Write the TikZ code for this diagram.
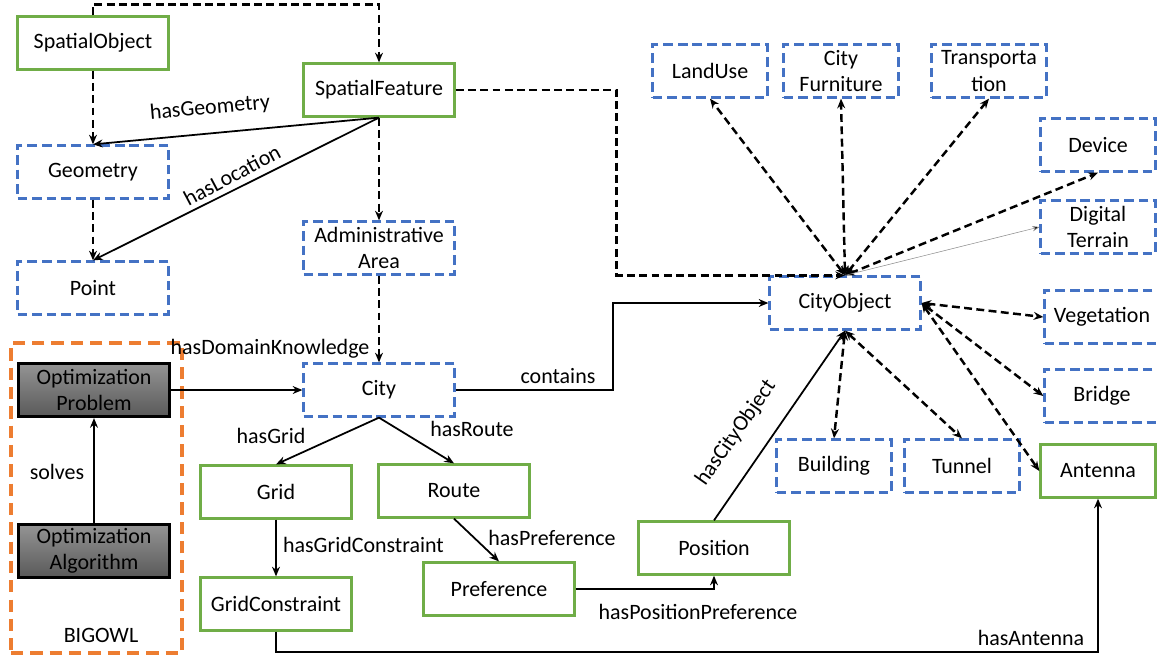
\documentclass[tikz,border=0pt]{standalone}
\usepackage{fontspec}
\setmainfont{Carlito}
\usepackage{tikz}
\usetikzlibrary{arrows.meta}
\definecolor{clsgreen}{HTML}{70AD47}
\definecolor{extblue}{HTML}{4472C4}
\definecolor{owlorange}{HTML}{ED7D31}
\newcommand{\txt}{\fontsize{12.5}{15}\selectfont}
\tikzset{
    box/.style={draw, align=center, minimum height=1.06cm, inner sep=1pt, font=\txt},
    cls/.style={box, draw=clsgreen, line width=1.3pt, minimum width=3.02cm},
    ext/.style={box, draw=extblue, line width=1.3pt, dash pattern=on 5.5pt off 2.8pt, minimum width=2.3cm},
    opt/.style={box, line width=1.8pt, top color=black!42, bottom color=black!65, minimum width=3.02cm},
    grp/.style={draw=owlorange, line width=1.8pt, dash pattern=on 7pt off 4pt},
    lbl/.style={font=\txt, inner sep=1pt},
    isa/.style={line width=1.4pt, dash pattern=on 4.5pt off 2.5pt},
    rel/.style={line width=1pt},
    >={Stealth[length=5.5pt,width=4.5pt]}
}

\begin{document}
\begin{tikzpicture}[x=0.02cm, y=-0.02cm]
    \useasboundingbox (0,0) rectangle (1157,657);
    % BIGOWL group
    \node[grp, minimum width=3.42cm, minimum height=6.2cm] (owl) at (96.5,498) {};
    \node[lbl] (owlname) at (101,635) {BIGOWL};
    \node[opt] (prob) at (94,390) {Optimization\\Problem};
    \node[opt] (alg) at (94,551) {Optimization\\Algorithm};
    % spatial part
    \node[cls] (so) at (93,43) {SpatialObject};
    \node[cls] (sf) at (379,90) {SpatialFeature};
    \node[ext, minimum width=3.02cm] (geo) at (93,172) {Geometry};
    \node[ext, minimum width=3.02cm] (pt) at (93,288) {Point};
    \node[ext, minimum width=3.02cm] (adm) at (379,248) {Administrative\\Area};
    \node[ext, minimum width=3.02cm] (city) at (379,390) {City};
    \node[cls] (grid) at (276,492) {Grid};
    \node[cls] (route) at (454,491) {Route};
    \node[cls] (gc) at (276,604) {GridConstraint};
    \node[cls] (pref) at (499,589) {Preference};
    \node[cls] (pos) at (714,548) {Position};
    % city objects
    \node[ext, minimum width=3.02cm] (co) at (845,303) {CityObject};
    \node[ext] (lu) at (710,71) {LandUse};
    \node[ext] (cf) at (841,71) {City\\Furniture};
    \node[ext] (tr) at (989,71) {Transporta\\tion};
    \node[ext] (dev) at (1098,145) {Device};
    \node[ext] (dt) at (1098,227) {Digital\\Terrain};
    \node[ext] (veg) at (1102,317) {Vegetation};
    \node[ext] (br) at (1102,396) {Bridge};
    \node[cls, minimum width=2.3cm] (ant) at (1098,471) {Antenna};
    \node[ext] (bld) at (834,466) {Building};
    \node[ext] (tun) at (962,466) {Tunnel};

    \draw[isa, ->] (so.north) -- ++(0,-11) -| (sf.north);
    \draw[isa, ->] (sf.east) -- ++(161,0) |- (co.north);
    \draw[isa]
    (so) edge[->] (geo)
    (geo) edge[->] (pt)
    (sf) edge[->] (adm)
    (adm) edge[->] (city);
    \draw[rel]
    (sf.south) edge[->] (geo.north)
    (sf.south) edge[->] (pt.north)
    (prob) edge[->] (city)
    (alg) edge[->] (prob)
    (city.south) edge[->] (grid.north)
    (city.south) edge[->] (route.north)
    (grid) edge[->] (gc)
    (route.south) edge[->] (pref.north)
    (pos.north) edge[->] (co.south);
    \draw[rel, ->] (pref.east) -| (pos.south);
    \draw[rel, ->] (city.east) -- ++(157,0) |- (co.west);
    \draw[rel, ->] (gc.south) -- ++(0,20) -| (ant.south);
    \draw[isa]
    (co.north) edge[<->] (lu.south)
    (co.north) edge[<->] (cf.south)
    (co.north) edge[<->] (tr.south)
    (co.north) edge[<->] (dev.south)
    (co.east) edge[<->] (veg.west)
    (co.east) edge[<->] (br.west)
    (co.east) edge[<->] (ant.west)
    (co.south) edge[<->] (bld.north)
    (co.south) edge[<->] (tun.north);
    \draw[draw=black!45, line width=0.3pt, -{Stealth[length=4pt,width=3pt,fill=black]}] (co.north) -- (dt.west);

    % relation names
    \node[lbl, rotate=5] (lgeo) at (210,108) {hasGeometry};
    \node[lbl, rotate=28] (lloc) at (232,175) {hasLocation};
    \node[lbl] (ldom) at (270,349) {hasDomainKnowledge};
    \node[lbl] (lsol) at (57,472) {solves};
    \node[lbl] (lgrid) at (271,436) {hasGrid};
    \node[lbl] (lroute) at (472,429) {hasRoute};
    \node[lbl, anchor=west] (lgc) at (281,545) {hasGridConstraint};
    \node[lbl] (lpref) at (552,538) {hasPreference};
    \node[lbl] (lpp) at (698,612) {hasPositionPreference};
    \node[lbl] (lcon) at (558,376) {contains};
    \node[lbl, rotate=55] (lco) at (736,433) {hasCityObject};
    \node[lbl] (lant) at (1031,638) {hasAntenna};
\end{tikzpicture}
\end{document}
